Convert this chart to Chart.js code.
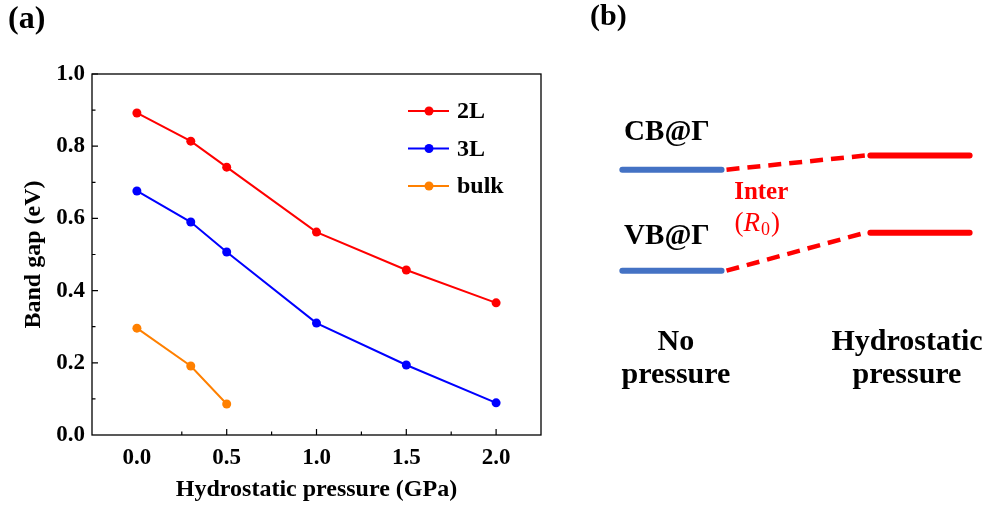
<!DOCTYPE html>
<html>
<head>
<meta charset="utf-8">
<script src="https://cdn.jsdelivr.net/npm/chart.js@4.4.0/dist/chart.umd.min.js"></script>
<style>
body{margin:0;background:#fff;width:982px;height:506px;position:relative;overflow:hidden}
#boxA{position:absolute;left:0;top:0;width:570px;height:506px}
#boxB{position:absolute;left:570px;top:0;width:412px;height:506px}
</style>
</head>
<body>
<div id="boxA"><canvas id="chartA"></canvas></div>
<div id="boxB"><canvas id="chartB"></canvas></div>
<script>
// du lieu panel (a): band gap theo ap suat
const pressure = [0, 0.3, 0.5, 1.0, 1.5, 2.0];
const gap2L = [0.892, 0.814, 0.742, 0.562, 0.457, 0.366];
const gap3L = [0.676, 0.590, 0.507, 0.310, 0.194, 0.089];
const pressureBulk = [0, 0.3, 0.5];
const gapBulk = [0.296, 0.191, 0.086];
const seriesNames = ['2L', '3L', 'bulk'];
const seriesColors = ['#ff0000', '#0000ff', '#ff8000'];
const xTickValues = [0, 0.5, 1.0, 1.5, 2.0];
const yTickValues = [0, 0.2, 0.4, 0.6, 0.8, 1.0];

// du lieu panel (b): so do muc nang luong
const stateNames = [['No', 'pressure'], ['Hydrostatic', 'pressure']];
const stateColors = ['#4472c4', '#ff0000'];
const levelNames = ['CB@Γ', 'VB@Γ'];
const cbLevels = [1.0, 1.14];
const vbLevels = [0.0, 0.376];

const serif = "'Liberation Serif','Times New Roman',serif";

function toPts(xs, ys) {
    return xs.map((x, i) => ({x: x, y: ys[i]}));
}

// khung, vach chia va chu thich cho panel (a)
const framePlugin = {
    id: 'frameA',
    afterDraw(chart) {
        const ctx = chart.ctx;
        const a = chart.chartArea;
        const sx = chart.scales.x, sy = chart.scales.y;
        ctx.save();
        ctx.strokeStyle = '#000';
        ctx.lineWidth = 1.3;
        ctx.strokeRect(a.left, a.top, a.right - a.left, a.bottom - a.top);

        // vach chia huong vao trong
        ctx.lineWidth = 1.2;
        ctx.beginPath();
        for (let v = 0.25; v < 2.25; v += 0.25) {
            let px = sx.getPixelForValue(v);
            let len = Math.abs(v * 2 - Math.round(v * 2)) < 1e-6 ? 6 : 3.5;
            ctx.moveTo(px, a.bottom);
            ctx.lineTo(px, a.bottom - len);
        }
        for (let v = 0.1; v < 1.0; v += 0.1) {
            let py = sy.getPixelForValue(v);
            let len = Math.abs(v * 5 - Math.round(v * 5)) < 1e-6 ? 6 : 3.5;
            ctx.moveTo(a.left, py);
            ctx.lineTo(a.left + len, py);
        }
        ctx.stroke();

        // chu thich
        let lx = a.right - 133, ly = a.top + 37;
        chart.data.datasets.forEach((ds, i) => {
            let y = ly + i * 37.5;
            ctx.strokeStyle = ds.borderColor;
            ctx.lineWidth = 2;
            ctx.beginPath();
            ctx.moveTo(lx, y);
            ctx.lineTo(lx + 41, y);
            ctx.stroke();
            ctx.fillStyle = ds.borderColor;
            ctx.beginPath();
            ctx.arc(lx + 21, y, 4.5, 0, Math.PI * 2);
            ctx.fill();
            ctx.fillStyle = '#000';
            ctx.font = 'bold 24px ' + serif;
            ctx.textAlign = 'left';
            ctx.textBaseline = 'middle';
            ctx.fillText(ds.label, lx + 49, y + 1);
        });

        ctx.font = 'bold 32px ' + serif;
        ctx.fillStyle = '#000';
        ctx.textAlign = 'left';
        ctx.textBaseline = 'middle';
        ctx.fillText('(a)', 8, 20);
        ctx.restore();
    }
};

const datasetsA = [
    {x: pressure, y: gap2L},
    {x: pressure, y: gap3L},
    {x: pressureBulk, y: gapBulk}
].map((s, i) => ({
    label: seriesNames[i],
    data: toPts(s.x, s.y),
    borderColor: seriesColors[i],
    backgroundColor: seriesColors[i],
    borderWidth: 2,
    pointRadius: 4.5,
    pointBorderWidth: 0,
    tension: 0
}));

new Chart(document.getElementById('chartA').getContext('2d'), {
    type: 'line',
    data: {datasets: datasetsA},
    options: {
        responsive: true,
        maintainAspectRatio: false,
        animation: false,
        layout: {padding: {left: 10, top: 74, right: 29, bottom: 0}},
        plugins: {legend: {display: false}, tooltip: {enabled: false}},
        scales: {
            x: {
                type: 'linear', min: -0.25, max: 2.25,
                afterBuildTicks: s => { s.ticks = xTickValues.map(v => ({value: v})); },
                afterFit: s => { s.height = 71; },
                grid: {display: false, drawTicks: false},
                border: {display: false},
                ticks: {
                    color: '#000', padding: 9, maxRotation: 0,
                    font: {family: serif, size: 23, weight: 'bold'},
                    callback: v => Number(v).toFixed(1)
                },
                title: {
                    display: true, text: 'Hydrostatic pressure (GPa)', color: '#000',
                    font: {family: serif, size: 24, weight: 'bold'},
                    padding: {top: 0, bottom: 2}
                }
            },
            y: {
                type: 'linear', min: 0, max: 1.0,
                afterBuildTicks: s => { s.ticks = yTickValues.map(v => ({value: v})); },
                afterFit: s => { s.width = 82; },
                grid: {display: false, drawTicks: false},
                border: {display: false},
                ticks: {
                    color: '#000', padding: 7,
                    font: {family: serif, size: 23, weight: 'bold'},
                    callback: v => Number(v).toFixed(1)
                },
                title: {
                    display: true, text: 'Band gap (eV)', color: '#000',
                    font: {family: serif, size: 24, weight: 'bold'},
                    padding: {top: 9, bottom: 0}
                }
            }
        }
    },
    plugins: [framePlugin]
});

// panel (b)
const halfW = 0.2;
const datasetsB = [];
[cbLevels, vbLevels].forEach(lv => {
    lv.forEach((e, s) => {
        datasetsB.push({
            data: [{x: s - halfW, y: e}, {x: s + halfW, y: e}],
            showLine: true, borderColor: stateColors[s], borderWidth: 6,
            borderCapStyle: 'round', pointRadius: 0
        });
    });
    datasetsB.push({
        data: [{x: halfW + 0.02, y: lv[0]}, {x: 1 - halfW - 0.02, y: lv[1]}],
        showLine: true, borderColor: '#ff0000', borderWidth: 4.5,
        borderDash: [13, 8], pointRadius: 0
    });
});

const textPluginB = {
    id: 'textB',
    afterDraw(chart) {
        const ctx = chart.ctx;
        const sx = chart.scales.x, sy = chart.scales.y;
        ctx.save();
        ctx.fillStyle = '#000';
        ctx.textBaseline = 'middle';
        ctx.textAlign = 'left';
        ctx.font = 'bold 30px ' + serif;
        ctx.fillText('(b)', 20, 17);

        ctx.textAlign = 'center';
        let x0 = sx.getPixelForValue(0), x1 = sx.getPixelForValue(1);
        ctx.font = 'bold 29px ' + serif;
        ctx.fillText(levelNames[0], x0 - 5, sy.getPixelForValue(cbLevels[0]) - 37);
        ctx.fillText(levelNames[1], x0 - 5, sy.getPixelForValue(vbLevels[0]) - 34);

        ctx.font = 'bold 30px ' + serif;
        let nx = [x0 + 4, x1 - 13];
        stateNames.forEach((lines, s) => {
            lines.forEach((t, k) => ctx.fillText(t, nx[s], 342 + k * 33));
        });

        // nhan Inter (R0)
        ctx.fillStyle = '#ff0000';
        let ix = x0 + 0.36 * (x1 - x0);
        ctx.font = 'bold 25px ' + serif;
        ctx.fillText('Inter', ix, 193);
        let yR = 224;
        ctx.textAlign = 'left';
        ctx.font = '27px ' + serif;
        let wP = ctx.measureText('(').width;
        ctx.font = 'italic 27px ' + serif;
        let wR = ctx.measureText('R').width;
        ctx.font = '18px ' + serif;
        let w0 = ctx.measureText('0').width;
        let total = wP * 2 + wR + w0 + 2;
        let cx = ix - 4 - total / 2;
        ctx.font = '27px ' + serif;
        ctx.fillText('(', cx, yR);
        cx += wP;
        ctx.font = 'italic 27px ' + serif;
        ctx.fillText('R', cx, yR);
        cx += wR + 1;
        ctx.font = '18px ' + serif;
        ctx.fillText('0', cx, yR + 6);
        cx += w0 + 1;
        ctx.font = '27px ' + serif;
        ctx.fillText(')', cx, yR);
        ctx.restore();
    }
};

new Chart(document.getElementById('chartB').getContext('2d'), {
    type: 'scatter',
    data: {datasets: datasetsB},
    options: {
        responsive: true,
        maintainAspectRatio: false,
        animation: false,
        layout: {padding: 0},
        plugins: {legend: {display: false}, tooltip: {enabled: false}},
        scales: {
            x: {type: 'linear', display: false, min: -0.411, max: 1.25},
            y: {type: 'linear', display: false, min: -2.33, max: 2.68}
        }
    },
    plugins: [textPluginB]
});
</script>
</body>
</html>
